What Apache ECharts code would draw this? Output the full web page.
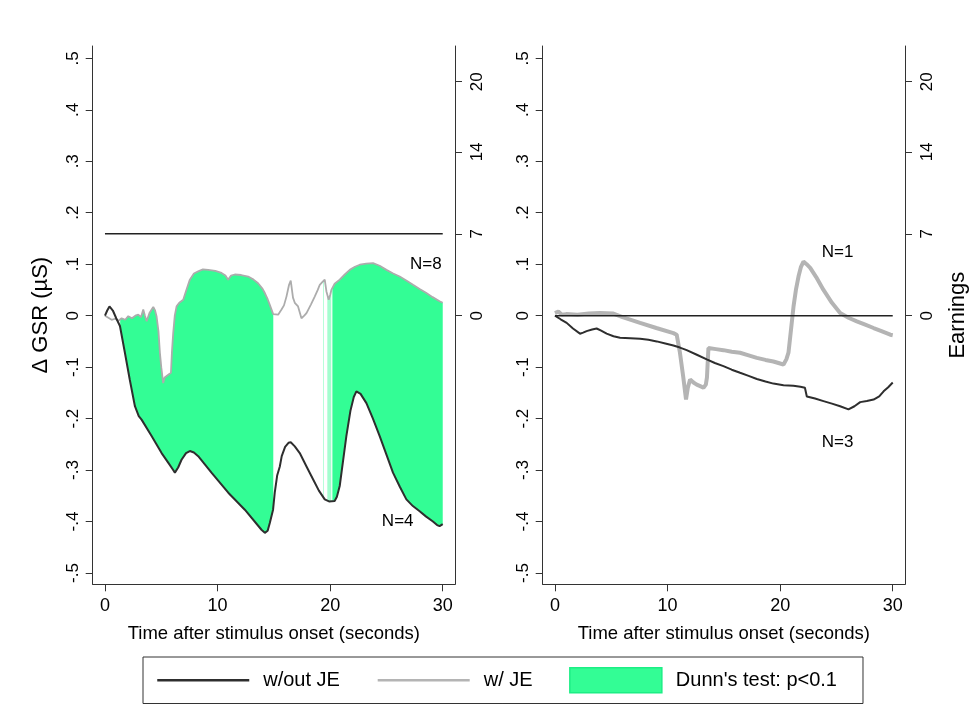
<!DOCTYPE html>
<html><head><meta charset="utf-8">
<script src="https://cdn.jsdelivr.net/npm/echarts@6/dist/echarts.min.js"></script>
<style>html,body{margin:0;padding:0;background:#fff}#c{width:976px;height:705px}</style>
</head><body><div id="c"></div>
<script>
// ---------------- DATA ----------------
// Left panel: w/out JE (N=4)
const tWoutL = [0,0.2,0.4,0.7,1.0,1.33,1.77,2.2,2.66,3.0,3.25,4.14,5.03,5.6,6.0,6.21,6.5,6.8,7.2,7.54,7.9,8.28,9.46,10.95,12.42,13.9,14.2,14.45,14.64,14.93,15.08,15.3,15.53,15.7,16.0,16.3,16.5,16.86,17.3,17.9,18.48,19.0,19.52,19.9,20.4,20.6,20.85,21.1,21.44,21.8,22.1,22.33,22.7,23.22,23.8,24.4,25.0,25.58,26.2,26.77,27.35,27.95,28.5,29.13,29.5,29.72,30];
const vWoutL = [0,0.01,0.018,0.01,-0.005,-0.02,-0.072,-0.124,-0.176,-0.195,-0.202,-0.234,-0.267,-0.285,-0.298,-0.305,-0.295,-0.28,-0.267,-0.263,-0.266,-0.273,-0.305,-0.344,-0.377,-0.416,-0.422,-0.418,-0.403,-0.377,-0.344,-0.31,-0.293,-0.273,-0.255,-0.247,-0.246,-0.254,-0.267,-0.293,-0.318,-0.34,-0.357,-0.361,-0.36,-0.352,-0.331,-0.29,-0.234,-0.185,-0.158,-0.147,-0.152,-0.17,-0.2,-0.234,-0.27,-0.305,-0.333,-0.357,-0.37,-0.38,-0.39,-0.4,-0.407,-0.409,-0.405];
// Left panel: w/ JE (N=8)
const tWL = [0,0.3,0.59,0.9,1.2,1.48,1.8,2.07,2.4,2.7,2.96,3.2,3.4,3.55,3.7,3.95,4.29,4.45,4.58,4.75,4.88,5.0,5.17,5.3,5.47,5.86,5.95,6.06,6.2,6.36,6.6,6.95,7.2,7.54,7.9,8.28,8.7,9.17,9.8,10.35,10.7,10.94,11.2,11.53,12.1,12.72,13.2,13.6,14.0,14.2,14.45,14.64,14.94,15.1,15.38,15.68,15.9,16.12,16.35,16.5,16.7,16.86,17.15,17.45,17.7,17.9,18.3,18.63,18.9,19.08,19.3,19.52,19.67,19.87,20.0,20.11,20.4,20.85,21.3,21.74,22.2,22.63,23.2,23.81,24.4,25.0,25.6,26.18,26.8,27.36,27.95,28.55,29.1,29.72,30];
const vWL = [0,-0.004,-0.008,-0.006,-0.01,-0.005,-0.008,-0.001,-0.005,0,0.002,-0.003,0.012,0,-0.011,0.005,0.017,0.01,-0.001,-0.03,-0.072,-0.1,-0.131,-0.12,-0.118,-0.111,-0.07,-0.034,0,0.018,0.025,0.031,0.048,0.07,0.082,0.086,0.09,0.089,0.087,0.083,0.078,0.07,0.078,0.08,0.079,0.076,0.07,0.063,0.052,0.044,0.032,0.021,0.003,0,0.002,0.012,0.02,0.037,0.06,0.068,0.035,0.025,0.018,-0.005,0,0.005,0.022,0.037,0.05,0.06,0.065,0.07,0.047,0.031,0.04,0.05,0.062,0.07,0.08,0.089,0.095,0.099,0.101,0.102,0.097,0.089,0.082,0.076,0.068,0.06,0.052,0.044,0.036,0.028,0.025];
// Left panel: Dunn's test p<0.1 intervals (seconds)
const sigStartL = [1.35, 19.38, 19.75, 20.2];
const sigEndL   = [14.95, 19.45, 20.1, 30];
// Left panel earnings line
const earnTL = [0, 30];
const earnVL = [7, 7];

// Right panel: w/out JE (N=3)
const tWoutR = [0,0.5,1.04,1.6,2.22,2.5,2.81,3.3,3.7,4.1,4.59,5.2,5.78,6.7,7.56,8.3,9.04,9.8,10.52,11.1,11.7,12.6,13.48,14.2,14.96,15.7,16.44,17.2,17.93,18.7,19.4,20.3,21.18,21.8,22.2,22.37,23.1,23.85,24.6,25.33,26.07,26.6,27.11,27.7,28.3,28.8,29.19,29.6,30];
const vWoutR = [0,-0.007,-0.014,-0.025,-0.035,-0.033,-0.03,-0.027,-0.025,-0.029,-0.035,-0.04,-0.043,-0.044,-0.045,-0.047,-0.05,-0.054,-0.058,-0.062,-0.067,-0.076,-0.085,-0.092,-0.098,-0.105,-0.111,-0.117,-0.123,-0.128,-0.132,-0.135,-0.136,-0.138,-0.14,-0.157,-0.161,-0.166,-0.171,-0.176,-0.182,-0.176,-0.168,-0.166,-0.163,-0.157,-0.147,-0.139,-0.13];
// Right panel: w/ JE (N=1)
const tWR = [0,0.3,0.6,1.0,2.0,3.0,4.0,5.19,6.0,7.56,9.0,10.52,10.81,11.1,11.4,11.64,11.8,12.0,12.3,12.59,12.9,13.19,13.4,13.5,13.63,14.3,14.96,15.7,16.44,17.2,17.93,18.7,19.4,20.0,20.3,20.55,20.74,21.0,21.19,21.4,21.63,21.85,22.07,22.35,22.67,23.2,23.85,24.6,25.33,26.07,26.81,27.5,28.3,29.0,29.78,30];
const vWR = [0.005,0.008,0.002,0.003,0.002,0.004,0.005,0.004,-0.003,-0.014,-0.024,-0.034,-0.037,-0.072,-0.12,-0.163,-0.14,-0.124,-0.13,-0.134,-0.137,-0.14,-0.134,-0.12,-0.063,-0.065,-0.067,-0.07,-0.072,-0.077,-0.082,-0.086,-0.089,-0.093,-0.095,-0.085,-0.072,-0.02,0.018,0.05,0.076,0.095,0.105,0.1,0.093,0.075,0.05,0.025,0.005,-0.004,-0.011,-0.017,-0.024,-0.03,-0.037,-0.038];
// Right panel earnings line
const earnTR = [0, 30];
const earnVR = [0, 0];

// Tick values
const xTicks = [0, 10, 20, 30];
const gsrTicks = [-0.5,-0.4,-0.3,-0.2,-0.1,0,0.1,0.2,0.3,0.4,0.5];
const earnTicks = [0, 7, 14, 20];

// Group size annotations
const nTextL = ['N=8', 'N=4'];
const nXL = [28.5, 26.0];
const nYL = [0.099, -0.40];
const nTextR = ['N=1', 'N=3'];
const nXR = [25.1, 25.1];
const nYR = [0.124, -0.247];

// ---------------- CHART ----------------
const FONT = "'Liberation Sans', Arial, Helvetica, sans-serif";
const AX = '#333';
const GREEN = '#33FD95';
const DARK = '#2e2e2e';
const GRAY = '#acacac';
const GSR_MIN = -0.522, GSR_MAX = 0.524;
const EARN_SCALE = 44;
const X_MIN = -1.09, X_MAX = 31.09;

function pairs(t, v) { return t.map((x, i) => [x, v[i]]); }
function interp(t, v, x) {
  for (let i = 0; i < t.length - 1; i++) {
    if (x >= t[i] && x <= t[i + 1]) {
      const f = (x - t[i]) / (t[i + 1] - t[i] || 1);
      return v[i] + f * (v[i + 1] - v[i]);
    }
  }
  return x < t[0] ? v[0] : v[v.length - 1];
}
function fmtGSR(v) {
  if (Math.abs(v) < 1e-9) return '0';
  return (Math.round(v * 10) / 10).toString().replace('0.', '.');
}

function xAx(gi) {
  return {
    type: 'value', gridIndex: gi, min: X_MIN, max: X_MAX,
    axisLine: { show: true, onZero: false, lineStyle: { color: AX, width: 1 } },
    axisTick: { show: true, length: 7, customValues: xTicks, lineStyle: { color: AX, width: 1 } },
    axisLabel: { customValues: xTicks, fontSize: 18, color: '#000', margin: 13, fontFamily: FONT },
    splitLine: { show: false },
    name: 'Time after stimulus onset (seconds)', nameLocation: 'middle', nameGap: 40,
    nameTextStyle: { fontSize: 18.5, color: '#000', fontFamily: FONT }
  };
}
function yLeft(gi, withName) {
  return {
    type: 'value', gridIndex: gi, position: 'left', min: GSR_MIN, max: GSR_MAX,
    axisLine: { show: true, onZero: false, lineStyle: { color: AX, width: 1 } },
    axisTick: { show: true, length: 7, customValues: gsrTicks, lineStyle: { color: AX, width: 1 } },
    axisLabel: { customValues: gsrTicks, rotate: 90, formatter: fmtGSR, fontSize: 17, color: '#000', margin: 11, fontFamily: FONT },
    splitLine: { show: false },
    name: withName ? 'Δ GSR (µS)' : '', nameLocation: 'middle', nameRotate: 90, nameGap: 41,
    nameTextStyle: { fontSize: 22, color: '#000', fontFamily: FONT }
  };
}
function yRight(gi, withName) {
  return {
    type: 'value', gridIndex: gi, position: 'right', min: GSR_MIN * EARN_SCALE, max: GSR_MAX * EARN_SCALE,
    axisLine: { show: true, onZero: false, lineStyle: { color: AX, width: 1 } },
    axisTick: { show: true, length: 7, customValues: earnTicks, lineStyle: { color: AX, width: 1 } },
    axisLabel: { customValues: earnTicks, rotate: 90, fontSize: 17, color: '#000', margin: 14, fontFamily: FONT },
    splitLine: { show: false },
    name: withName ? 'Earnings' : '', nameLocation: 'middle', nameRotate: 90, nameGap: 42,
    nameTextStyle: { fontSize: 22, color: '#000', fontFamily: FONT }
  };
}

function fillSeries(xi, yi, tLow, vLow, tHigh, vHigh, starts, ends) {
  return {
    type: 'custom', name: "Dunn's test: p<0.1", xAxisIndex: xi, yAxisIndex: yi, silent: true, z: 1,
    itemStyle: { color: GREEN },
    data: starts.map((s, i) => [s, ends[i], 0]),
    encode: { x: [0, 1], y: 2 },
    renderItem: function (params, api) {
      const a = api.value(0), b = api.value(1);
      const top = [[a, interp(tHigh, vHigh, a)]];
      tHigh.forEach((x, i) => { if (x > a && x < b) top.push([x, vHigh[i]]); });
      top.push([b, interp(tHigh, vHigh, b)]);
      const bot = [[b, interp(tLow, vLow, b)]];
      for (let i = tLow.length - 1; i >= 0; i--) { if (tLow[i] > a && tLow[i] < b) bot.push([tLow[i], vLow[i]]); }
      bot.push([a, interp(tLow, vLow, a)]);
      const pts = top.concat(bot).map(p => api.coord(p));
      const narrow = (b - a) < 0.5;
      return { type: 'polygon', shape: { points: pts }, style: { fill: GREEN, opacity: narrow ? 0.45 : 1 } };
    }
  };
}
function lineSeries(name, xi, yi, t, v, color, width, z) {
  return {
    type: 'line', name: name, xAxisIndex: xi, yAxisIndex: yi, data: pairs(t, v),
    showSymbol: false, symbol: 'none', smooth: false, z: z, silent: true,
    lineStyle: { color: color, width: width }, itemStyle: { color: color }
  };
}
function nLabels(xi, yi, xs, ys, texts) {
  return {
    type: 'scatter', xAxisIndex: xi, yAxisIndex: yi, symbolSize: 0, silent: true, z: 5,
    itemStyle: { opacity: 1 },
    data: xs.map((x, i) => ({ value: [x, ys[i]], label: { formatter: texts[i] } })),
    label: { show: true, position: 'inside', fontSize: 17, color: '#000', opacity: 1, fontFamily: FONT }
  };
}

const HIDE = { color: 'rgba(0,0,0,0)', borderColor: 'rgba(0,0,0,0)', borderWidth: 0, opacity: 0 };
const option = {
  backgroundColor: '#fff',
  animation: false,
  textStyle: { fontFamily: FONT },
  grid: [
    { left: 92.7, top: 46, width: 362.3, height: 538.3, containLabel: false, outerBoundsMode: 'none' },
    { left: 542.7, top: 46, width: 362.3, height: 538.3, containLabel: false, outerBoundsMode: 'none' }
  ],
  xAxis: [xAx(0), xAx(1)],
  yAxis: [yLeft(0, true), yRight(0, false), yLeft(1, false), yRight(1, true)],
  legend: {
    show: true, left: 143, top: 657, orient: 'horizontal',
    itemWidth: 92, itemHeight: 25, itemGap: 36.5,
    padding: [10, 26, 10, 13],
    borderColor: '#333', borderWidth: 1, borderRadius: 0,
    textStyle: { fontSize: 20, color: '#000', fontFamily: FONT, padding: [0, 0, 0, 9] },
    selectedMode: false,
    data: [
      { name: 'w/out JE', itemStyle: HIDE, lineStyle: { color: DARK, width: 2.5 } },
      { name: 'w/ JE', itemStyle: HIDE, lineStyle: { color: '#b4b4b4', width: 2.5 } },
      { name: "Dunn's test: p<0.1", icon: 'rect', itemStyle: { color: GREEN, borderColor: '#1dee85', borderWidth: 1.5 } }
    ]
  },
  series: [
    fillSeries(0, 0, tWoutL, vWoutL, tWL, vWL, sigStartL, sigEndL),
    lineSeries('w/out JE', 0, 0, tWoutL, vWoutL, DARK, 2, 3),
    lineSeries('w/ JE', 0, 0, tWL, vWL, GRAY, 1.8, 2),
    lineSeries('earnL', 0, 1, earnTL, earnVL, '#222', 1.5, 3),
    nLabels(0, 0, nXL, nYL, nTextL),
    lineSeries('w/out JE', 1, 2, tWoutR, vWoutR, DARK, 2, 3),
    lineSeries('w/ JE', 1, 2, tWR, vWR, '#b4b4b4', 4, 2),
    lineSeries('earnR', 1, 3, earnTR, earnVR, '#222', 1.5, 3),
    nLabels(1, 2, nXR, nYR, nTextR)
  ]
};
const chart = echarts.init(document.getElementById('c'), null, { renderer: 'canvas' });
chart.setOption(option);
</script></body></html>
